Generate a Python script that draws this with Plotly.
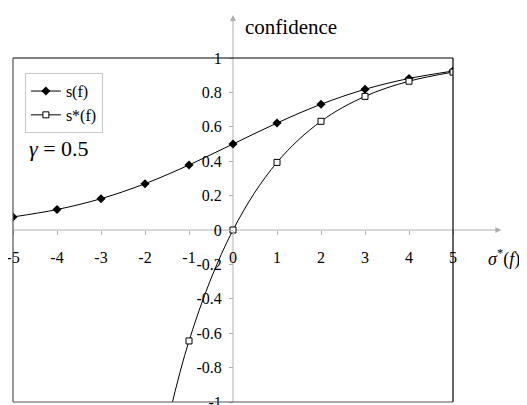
import plotly.graph_objects as go

x_s = [-5, -4, -3, -2, -1, 0, 1, 2, 3, 4, 5]
s_vals = [0.076, 0.119, 0.182, 0.269, 0.378, 0.5, 0.622, 0.731, 0.818, 0.881, 0.924]
x_star = [-2, -1, 0, 1, 2, 3, 4, 5]
s_star_vals = [-1.72, -0.645, 0.0, 0.393, 0.632, 0.777, 0.865, 0.918]
x_ticks = [-5, -4, -3, -2, -1, 0, 1, 2, 3, 4, 5]
y_ticks = [-1, -0.8, -0.6, -0.4, -0.2, 0, 0.2, 0.4, 0.6, 0.8, 1]
y_tick_labels = ["-1", "-0.8", "-0.6", "-0.4", "-0.2", "0", "0.2", "0.4", "0.6", "0.8", "1"]

FONT = "Liberation Serif, Times New Roman, serif"
GRAY = "#b0b0b0"

fig = go.Figure()
fig.add_trace(go.Scatter(
    x=x_s, y=s_vals, name="s(f)", mode="lines+markers",
    line=dict(color="black", width=1, shape="spline"),
    marker=dict(symbol="diamond", size=7, color="black"),
    cliponaxis=True,
))
fig.add_trace(go.Scatter(
    x=x_star, y=s_star_vals, name="s*(f)", mode="lines+markers",
    line=dict(color="black", width=1, shape="spline"),
    marker=dict(symbol="square", size=6, color="white", line=dict(color="black", width=1)),
    cliponaxis=True,
))

fig.update_layout(
    width=527, height=405,
    margin=dict(l=5, r=82, t=50, b=11, autoexpand=False),
    plot_bgcolor="white", paper_bgcolor="white",
    font=dict(family=FONT, color="black", size=16),
    showlegend=True,
    legend=dict(x=0.027, y=0.956, xanchor="left", yanchor="top",
                bordercolor="#c8c8c8", borderwidth=1, bgcolor="white",
                font=dict(family=FONT, size=16), tracegroupgap=0, itemwidth=30),
    xaxis=dict(range=[-5, 5], tickvals=x_ticks, ticktext=[str(v) for v in x_ticks],
               showgrid=False, zeroline=False, showline=False, automargin=False,
               ticklabeloverflow="allow",
               anchor="free", position=0.5, ticks="outside", ticklen=4, tickcolor=GRAY,
               ticklabelstandoff=9, tickfont=dict(family=FONT, size=16)),
    yaxis=dict(range=[-1, 1], tickvals=y_ticks, ticktext=y_tick_labels,
               showgrid=False, zeroline=False, showline=False, automargin=False,
               ticklabeloverflow="allow",
               anchor="free", position=0.5, ticks="outside", ticklen=4, tickcolor=GRAY,
               ticklabelstandoff=4, tickfont=dict(family=FONT, size=16)),
)

# axis lines through zero, extended with arrows
fig.add_shape(type="line", xref="paper", yref="y", x0=0, x1=1.1, y0=0, y1=0,
              line=dict(color=GRAY, width=1), layer="below")
fig.add_shape(type="line", xref="x", yref="paper", x0=0, x1=0, y0=0, y1=1.11,
              line=dict(color=GRAY, width=1), layer="below")
fig.add_annotation(xref="paper", yref="paper", x=1.11, y=0.5, ax=-8, ay=0, text="",
                   showarrow=True, arrowhead=2, arrowsize=1.2, arrowwidth=1, arrowcolor=GRAY)
fig.add_annotation(xref="paper", yref="paper", x=0.5, y=1.125, ax=0, ay=8, text="",
                   showarrow=True, arrowhead=2, arrowsize=1.2, arrowwidth=1, arrowcolor=GRAY)

# plot box
fig.add_shape(type="line", xref="paper", yref="paper", x0=0, x1=1, y0=1, y1=1, line=dict(color="black", width=1))
fig.add_shape(type="line", xref="paper", yref="paper", x0=1, x1=1, y0=0, y1=1, line=dict(color="black", width=1.2))
fig.add_shape(type="line", xref="paper", yref="paper", x0=0, x1=0, y0=0, y1=1, line=dict(color="#555555", width=1.2))
fig.add_shape(type="line", xref="paper", yref="paper", x0=0, x1=1, y0=0, y1=0, line=dict(color="#555555", width=1.2))

fig.add_annotation(xref="paper", yref="paper", x=0.522, y=1.09, text="confidence",
                   showarrow=False, xanchor="left", yanchor="middle",
                   font=dict(family=FONT, size=21))
fig.add_annotation(xref="paper", yref="paper", x=1.075, y=0.42, text="<i>σ</i><sup>*</sup>(<i>f</i>)",
                   showarrow=False, xanchor="left", yanchor="middle",
                   font=dict(family=FONT, size=18))
fig.add_annotation(xref="paper", yref="paper", x=0.032, y=0.738, text="<i>γ</i> = 0.5",
                   showarrow=False, xanchor="left", yanchor="middle",
                   font=dict(family=FONT, size=22))

fig.write_html("out.html")
